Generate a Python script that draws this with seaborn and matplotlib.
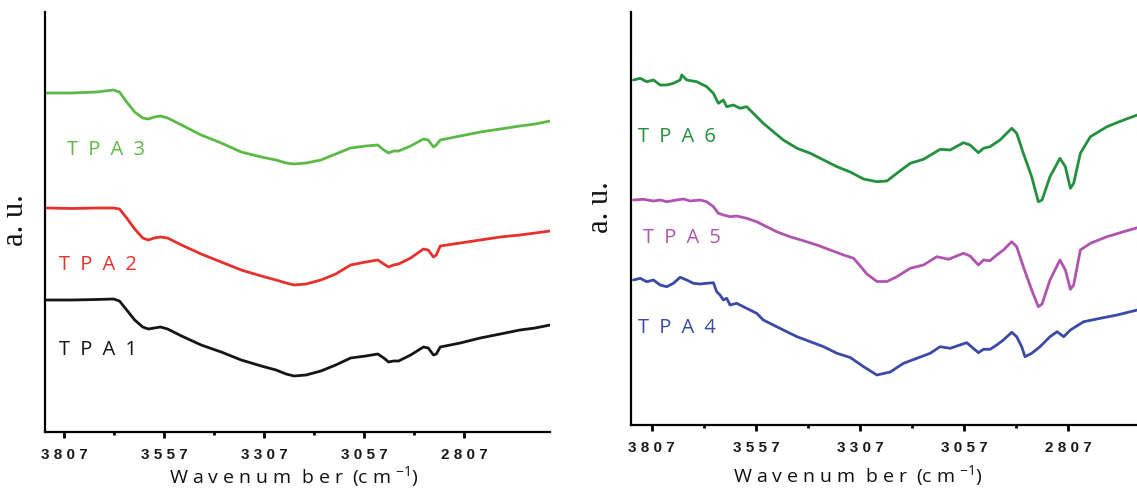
import matplotlib
matplotlib.use("Agg")
import pandas as pd
import matplotlib.pyplot as plt
import seaborn as sns
from matplotlib.ticker import FixedLocator, FuncFormatter

# left panel: wavenumbers (cm-1) shared by TPA1-3, intensities in a.u.
left_wn = [3849, 3787, 3725, 3683, 3668, 3650, 3630, 3610, 3596, 3581,
           3566, 3548, 3513, 3464, 3414, 3364, 3314, 3277, 3252, 3232,
           3202, 3165, 3128, 3091, 3053, 3023, 3008, 2996, 2984, 2971,
           2941, 2909, 2897, 2884, 2877, 2867, 2817, 2767, 2717, 2668,
           2630, 2593]
tpa1 = [132, 132, 132.5, 133, 131, 122, 112, 105, 103, 104,
        105, 103, 96, 87, 80, 72, 66, 62, 58, 56,
        57, 61, 67, 74, 76, 78, 74, 70, 71, 71,
        77, 85, 84, 77, 78, 85, 89, 94, 98, 102,
        104, 107]
tpa2 = [224, 223.5, 224, 224, 223, 214, 203, 194, 192, 194,
        195, 194, 187, 178, 170, 162, 156, 152, 149, 147,
        148, 152, 158, 167, 170, 172, 168, 165, 167, 168,
        174, 183, 182, 175, 177, 186, 189, 192, 195, 197,
        199, 201]
tpa3 = [339, 339, 340, 342, 340, 330, 320, 314, 313, 315,
        316, 314, 307, 297, 289, 280, 275, 272, 269, 268,
        269, 272, 278, 284, 286, 287, 282, 279, 281, 281,
        286, 293, 292, 285, 287, 292, 296, 300, 303, 306,
        308, 311]

# right panel
tpa4_wn = [3851, 3835, 3819, 3803, 3787, 3771, 3755, 3739, 3723, 3707,
           3691, 3675, 3659, 3651, 3643, 3635, 3627, 3619, 3603, 3587,
           3571, 3555, 3539, 3515, 3491, 3458, 3426, 3394, 3362, 3330,
           3298, 3266, 3234, 3202, 3170, 3138, 3114, 3090, 3050, 3022,
           3010, 2994, 2978, 2962, 2942, 2930, 2918, 2910, 2894, 2874,
           2850, 2833, 2817, 2801, 2769, 2729, 2689, 2640, 2599]
tpa4 = [145, 146.7, 143.3, 145, 140, 138.3, 141.7, 147.7, 145, 141.7,
        141, 141.7, 142.3, 133.3, 130, 125, 126.7, 120, 121.7, 118.3,
        115, 111.7, 105, 100, 95, 88.3, 83.3, 78.3, 71.7, 67.5,
        58.3, 50, 53, 61.7, 66.7, 71.7, 78.3, 76.7, 82.3, 72.3,
        75.7, 75.7, 80, 85, 92.7, 88.3, 78.3, 68.3, 71.7, 78.3,
        88.3, 93.3, 88.3, 95, 103.3, 106.7, 110, 115, 118]

tpa5_wn = [3851, 3827, 3803, 3787, 3771, 3747, 3731, 3715, 3691, 3675,
           3659, 3647, 3635, 3619, 3603, 3579, 3555, 3531, 3507, 3475,
           3443, 3410, 3378, 3346, 3322, 3306, 3290, 3266, 3242, 3218,
           3186, 3154, 3122, 3094, 3058, 3042, 3022, 3010, 2994, 2978,
           2962, 2942, 2930, 2914, 2894, 2878, 2869, 2850, 2826, 2813,
           2801, 2793, 2777, 2753, 2713, 2673, 2640, 2599]
tpa5 = [225, 225.7, 224, 225, 223.3, 225, 226, 224, 225, 223.3,
        218.3, 211.7, 210, 208.3, 209, 206.7, 203.3, 198.3, 193.3, 188.3,
        184.3, 180, 175, 170, 166.7, 159, 151, 143.5, 143.5, 148.3,
        156.7, 160, 168.3, 165.7, 171.7, 169, 160, 165, 164.3, 170,
        175, 183.3, 178.3, 158.3, 135, 118.3, 121, 145, 165, 155,
        135.7, 140, 175, 181.7, 188.3, 193.3, 197.3, 200]

tpa6_wn = [3851, 3835, 3819, 3803, 3787, 3771, 3755, 3739, 3735, 3723,
           3699, 3675, 3659, 3647, 3635, 3627, 3611, 3595, 3579, 3563,
           3539, 3515, 3491, 3458, 3426, 3394, 3362, 3330, 3298, 3266,
           3242, 3218, 3186, 3154, 3130, 3114, 3090, 3058, 3042, 3022,
           3010, 2994, 2982, 2970, 2954, 2942, 2930, 2914, 2894, 2878,
           2869, 2850, 2826, 2813, 2801, 2793, 2777, 2753, 2713, 2673,
           2640, 2599]
tpa6 = [345, 346.7, 343.3, 345, 340, 340, 341.7, 345, 350, 345,
        343.3, 338.3, 331.7, 321.7, 325, 318.3, 320, 316.7, 318.3, 311.7,
        301.7, 293.3, 285, 276.7, 271.7, 265, 258.3, 253, 246, 243.3,
        244, 251.7, 261.7, 265.7, 271.7, 275.7, 275, 282.3, 280, 272.3,
        276.7, 278.3, 281.7, 285, 291.7, 296.7, 291.7, 271.7, 248.3, 223.3,
        225, 248.3, 266.7, 258.3, 236.7, 241.7, 271.7, 288.3, 298.3, 305,
        310, 313]

major_ticks = [3807, 3557, 3307, 3057, 2807]
minor_ticks = [3682, 3432, 3182, 2932]

SP = "\u2002"  # en space, the labels are letter-spaced

sns.set_theme(style="white")
plt.rcParams['font.family'] = ['Open Sans', 'DejaVu Sans']

fig = plt.figure(figsize=(11.37, 4.90), dpi=100)
ax1 = fig.add_axes([45 / 1137, 58 / 490, 505 / 1137, 420 / 490])
ax2 = fig.add_axes([631 / 1137, 65 / 490, 523 / 1137, 413 / 490])

left_series = [("TPA1", tpa1, "#151515", 3819, 82),
               ("TPA2", tpa2, "#e8302c", 3819, 167),
               ("TPA3", tpa3, "#5cb946", 3800, 282)]
for name, vals, col, tx, ty in left_series:
    df = pd.DataFrame({"wn": left_wn, "y": vals})
    sns.lineplot(data=df, x="wn", y="y", ax=ax1, color=col, lw=2.0,
                 estimator=None, sort=False)
    ax1.text(tx, ty, SP.join(name), color=col, fontsize=14.5,
             ha="left", va="center")

right_series = [("TPA4", tpa4_wn, tpa4, "#3a4aa8", 3840, 97),
                ("TPA5", tpa5_wn, tpa5, "#b054b0", 3828, 187),
                ("TPA6", tpa6_wn, tpa6, "#22903c", 3840, 288)]
for name, wn, vals, col, tx, ty in right_series:
    df = pd.DataFrame({"wn": wn, "y": vals})
    sns.lineplot(data=df, x="wn", y="y", ax=ax2, color=col, lw=2.0,
                 estimator=None, sort=False)
    ax2.text(tx, ty, SP.join(name), color=col, fontsize=14.5,
             ha="left", va="center")

ax1.set_xlim(3854, 2593)
ax1.set_ylim(0, 420)
ax2.set_xlim(3857, 2600)
ax2.set_ylim(0, 413)

fmt = FuncFormatter(lambda v, _: " ".join(f"{v:.0f}"))
xlab = r"W a v e n u m  b e r  (c m $^{\mathregular{-1}}$)"
for ax in (ax1, ax2):
    for s in ("top", "right"):
        ax.spines[s].set_visible(False)
    for s in ("left", "bottom"):
        ax.spines[s].set_linewidth(1.6)
        ax.spines[s].set_color("black")
    ax.xaxis.set_major_locator(FixedLocator(major_ticks))
    ax.xaxis.set_minor_locator(FixedLocator(minor_ticks))
    ax.xaxis.set_major_formatter(fmt)
    ax.tick_params(axis="x", which="major", direction="out", length=4.5,
                   width=2, color="black", pad=7, bottom=True,
                   labelsize=11, labelcolor="#1a1a1a")
    ax.tick_params(axis="x", which="minor", direction="out", length=2.5,
                   width=2, color="black", bottom=True)
    ax.set_yticks([])
    plt.setp(ax.get_xticklabels(), fontfamily="Liberation Sans",
             fontweight="bold")
    ax.set_xlabel(xlab, fontsize=14, color="#111111")
    ax.set_ylabel("a. u.", fontsize=22, color="#111111",
                  fontfamily=["Liberation Serif", "DejaVu Serif"])

ax1.xaxis.set_label_coords(0.493, -0.077)
ax2.xaxis.set_label_coords(0.434, -0.094)
ax1.yaxis.set_label_coords(-0.03, 0.505)
ax2.yaxis.set_label_coords(-0.031, 0.528)

fig.savefig("out.png", dpi=100)
